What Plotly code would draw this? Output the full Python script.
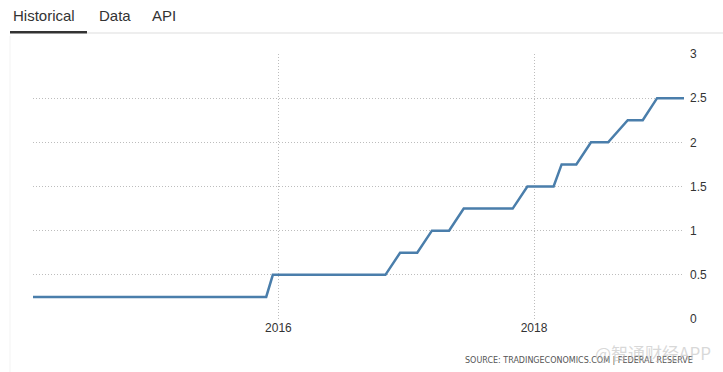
import plotly.graph_objects as go

# Data: Fed funds rate (upper bound), points at meeting dates
dates = [
    "2014-01-29", "2014-03-19", "2014-04-30", "2014-06-18", "2014-07-30", "2014-09-17",
    "2014-10-29", "2014-12-17", "2015-01-28", "2015-03-18", "2015-04-29", "2015-06-17",
    "2015-07-29", "2015-09-17", "2015-10-28", "2015-11-27", "2015-12-16", "2016-01-27",
    "2016-03-16", "2016-04-27", "2016-06-15", "2016-07-27", "2016-09-21", "2016-11-02",
    "2016-12-14", "2017-02-01", "2017-03-15", "2017-05-03", "2017-06-14", "2017-07-26",
    "2017-09-20", "2017-11-01", "2017-12-13", "2018-01-31", "2018-02-26", "2018-03-21",
    "2018-05-02", "2018-06-13", "2018-08-01", "2018-09-26", "2018-11-08", "2018-12-19",
    "2019-01-30", "2019-03-06",
]
rates = [
    0.25, 0.25, 0.25, 0.25, 0.25, 0.25,
    0.25, 0.25, 0.25, 0.25, 0.25, 0.25,
    0.25, 0.25, 0.25, 0.25, 0.5, 0.5,
    0.5, 0.5, 0.5, 0.5, 0.5, 0.5,
    0.75, 0.75, 1.0, 1.0, 1.25, 1.25,
    1.25, 1.25, 1.5, 1.5, 1.5, 1.75,
    1.75, 2.0, 2.0, 2.25, 2.25, 2.5,
    2.5, 2.5,
]
x_tickvals = ["2016-01-01", "2018-01-01"]
x_ticktext = ["2016", "2018"]
y_tickvals = [0, 0.5, 1, 1.5, 2, 2.5, 3]
y_ticktext = ["0", "0.5", "1", "1.5", "2", "2.5", "3"]
tabs = ["Historical", "Data", "API"]
source_text = "SOURCE: TRADINGECONOMICS.COM | FEDERAL RESERVE"
watermark = "@智通财经APP"

W, H = 723, 372
L, R, T, B = 33, 39, 54, 53
PW, PH = W - L - R, H - T - B

def px(x):
    return (x - L) / PW

def py(y):
    return (H - B - y) / PH

fig = go.Figure()
fig.add_trace(go.Scatter(
    x=dates, y=rates, mode="lines",
    line=dict(color="#4a7eab", width=2.5),
    hoverinfo="x+y",
))

font_main = "Liberation Sans, Arial, sans-serif"

fig.update_layout(
    width=W, height=H,
    margin=dict(l=L, r=R, t=T, b=B),
    paper_bgcolor="white", plot_bgcolor="white",
    showlegend=False,
    xaxis=dict(
        range=[dates[0], dates[-1]],
        tickvals=x_tickvals, ticktext=x_ticktext,
        showgrid=True, gridcolor="#bdbdbd", griddash="1px,2px", gridwidth=1,
        showline=False, zeroline=False, ticks="",
        tickfont=dict(family=font_main, size=12, color="#333"),
    ),
    yaxis=dict(
        range=[0, 3], side="right",
        tickvals=y_tickvals, ticktext=y_ticktext,
        showgrid=True, gridcolor="#bdbdbd", griddash="1px,2px", gridwidth=1,
        showline=False, zeroline=False, ticks="",
        ticklabelstandoff=5,
        tickfont=dict(family=font_main, size=12, color="#333"),
    ),
)

# Tabs
tab_centers = [44, 115, 164]
for name, cx in zip(tabs, tab_centers):
    fig.add_annotation(
        x=px(cx), y=py(15), xref="paper", yref="paper",
        text=name, showarrow=False, xanchor="center", yanchor="middle",
        font=dict(family=font_main, size=15, color="#333"),
    )

fig.add_shape(type="line", xref="paper", yref="paper",
              x0=px(87), x1=px(W), y0=py(33), y1=py(33),
              line=dict(color="#dddddd", width=1))
fig.add_shape(type="rect", xref="paper", yref="paper",
              x0=px(10), x1=px(87), y0=py(33.5), y1=py(31),
              line=dict(width=0), fillcolor="#333333")
fig.add_shape(type="line", xref="paper", yref="paper",
              x0=px(10), x1=px(10), y0=py(36), y1=py(H),
              line=dict(color="#f3f3f3", width=1))

fig.add_annotation(
    x=px(695), y=py(360), xref="paper", yref="paper",
    text=source_text, showarrow=False, xanchor="right", yanchor="middle",
    font=dict(family="DejaVu Sans, sans-serif", size=8, color="#555"),
)
fig.add_annotation(
    x=px(713), y=py(352), xref="paper", yref="paper",
    text=watermark, showarrow=False, xanchor="right", yanchor="middle",
    font=dict(family="Noto Sans CJK SC, sans-serif", size=17, color="rgba(190,190,190,0.6)"),
)

fig.write_html("out.html")
